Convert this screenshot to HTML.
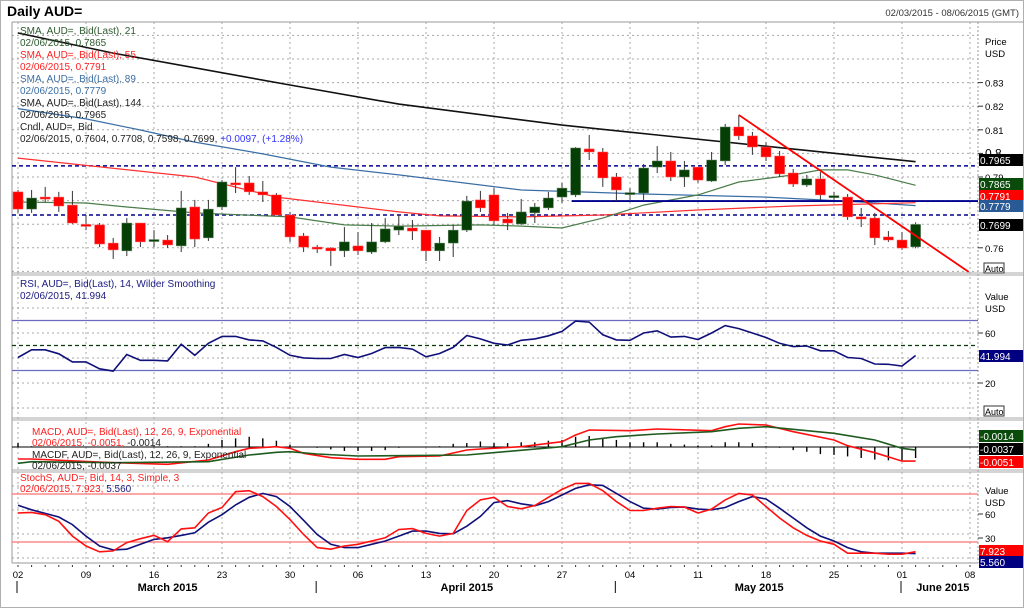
<!DOCTYPE html>
<html><head><meta charset="utf-8"><style>
html,body{margin:0;padding:0;background:#fff;}
svg{display:block;font-family:"Liberation Sans",sans-serif;}
</style></head><body>
<svg id="c" width="1024" height="608" viewBox="0 0 1024 608" xmlns="http://www.w3.org/2000/svg">
<rect x="0" y="0" width="1024" height="608" fill="#fff"/>
<rect x="0.5" y="0.5" width="1023" height="607" fill="none" stroke="#b0b0b0"/>
<text x="7" y="16" font-size="14" font-weight="bold" fill="#000">Daily AUD=</text>
<text x="1019" y="16" font-size="9.5" fill="#333" text-anchor="end">02/03/2015 - 08/06/2015 (GMT)</text>
<g id="grid"></g>
<g id="marks"></g>
<g id="legend" font-size="10">
<text x="20" y="34" fill="#2d5a2d">SMA, AUD=, Bid(Last), 21</text>
<text x="20" y="46" fill="#2d5a2d">02/06/2015, 0.7865</text>
<text x="20" y="58" fill="#ff2020">SMA, AUD=, Bid(Last), 55</text>
<text x="20" y="70" fill="#ff2020">02/06/2015, 0.7791</text>
<text x="20" y="82" fill="#3a6ea5">SMA, AUD=, Bid(Last), 89</text>
<text x="20" y="94" fill="#3a6ea5">02/06/2015, 0.7779</text>
<text x="20" y="106" fill="#222">SMA, AUD=, Bid(Last), 144</text>
<text x="20" y="118" fill="#222">02/06/2015, 0.7965</text>
<text x="20" y="130" fill="#222">Cndl, AUD=, Bid</text>
<text x="20" y="142" fill="#222">02/06/2015, 0.7604, 0.7708, 0.7598, 0.7699, <tspan fill="#3333ff">+0.0097, (+1.28%)</tspan></text>
<text x="20" y="287" fill="#1a1a80">RSI, AUD=, Bid(Last), 14, Wilder Smoothing</text>
<text x="20" y="299" fill="#1a1a80">02/06/2015, 41.994</text>
<text x="32" y="435" fill="#ff2020">MACD, AUD=, Bid(Last), 12, 26, 9, Exponential</text>
<text x="32" y="446" fill="#ff2020">02/06/2015, -0.0051, <tspan fill="#222">-0.0014</tspan></text>
<text x="32" y="458" fill="#222">MACDF, AUD=, Bid(Last), 12, 26, 9, Exponential</text>
<text x="32" y="469" fill="#222">02/06/2015, -0.0037</text>
<text x="20" y="481" fill="#ff2020">StochS, AUD=, Bid, 14, 3, Simple, 3</text>
<text x="20" y="492" fill="#ff2020">02/06/2015, 7.923, <tspan fill="#1a1a80">5.560</tspan></text>
</g>
<g id="axis" font-size="9.5"></g>
</svg>
<script>
// ---- price data ----
var candleOpen=[.7837,.7764,.7815,.7815,.7781,.7699,.7697,.7620,.7587,.7705,.7631,.7633,.7608,.7773,.7642,.7773,.7875,.7875,.7837,.7824,.7739,.7650,.7603,.7599,.7587,.7608,.7582,.7625,.7675,.7684,.7675,.7587,.7620,.7675,.7803,.7824,.7722,.7701,.7748,.7769,.7815,.7824,.8019,.8006,.7900,.7830,.7832,.7942,.7968,.7900,.7942,.7883,.7968,.8112,.8074,.8027,.7989,.7917,.7866,.7892,.7818,.7815,.7731,.7726,.7646,.7633,.7604];
var candleHigh=[.7845,.7845,.7858,.7837,.7841,.7739,.7705,.7642,.7726,.7705,.7675,.7654,.7841,.7803,.7803,.7887,.7942,.7904,.7883,.7832,.7752,.7663,.7612,.7603,.7688,.7667,.7705,.7726,.7739,.7718,.7675,.7646,.7697,.7820,.7841,.7853,.7748,.7807,.7790,.7837,.7875,.8027,.8078,.8023,.7917,.7853,.7955,.8031,.8006,.7968,.7942,.8006,.8125,.8163,.8091,.8048,.8010,.7934,.7909,.7921,.7837,.7828,.7769,.7748,.7671,.7667,.7708];
var candleLow=[.7748,.7748,.7794,.7752,.7701,.7675,.7603,.7553,.7565,.7603,.7603,.7599,.7582,.7603,.7629,.7760,.7832,.7824,.7794,.7739,.7625,.7582,.7578,.7523,.7561,.7570,.7574,.7620,.7654,.7633,.7544,.7544,.7561,.7667,.7752,.7697,.7675,.7697,.7705,.7760,.7790,.7815,.7972,.7858,.7798,.7798,.7798,.7917,.7883,.7858,.7875,.7879,.7951,.8057,.7994,.7968,.7900,.7858,.7858,.7803,.7803,.7718,.7688,.7612,.7625,.7591,.7598];
var candleClose=[.7764,.7811,.7807,.7777,.7705,.7697,.7616,.7591,.7705,.7625,.7635,.7612,.7769,.7637,.7764,.7879,.7871,.7837,.7824,.7739,.7646,.7603,.7595,.7587,.7625,.7587,.7625,.7680,.7692,.7671,.7587,.7620,.7675,.7798,.7769,.7714,.7705,.7752,.7773,.7811,.7853,.8023,.8006,.7896,.7845,.7834,.7938,.7968,.7900,.7930,.7887,.7972,.8112,.8074,.8027,.7985,.7913,.7870,.7892,.7824,.7821,.7731,.7722,.7642,.7633,.7599,.7699];
var sma21Idx=[0,5,8,13,20,24,28,34,37,40,43,46,50,53,57,59,61,63,66];
var sma21Val=[.7794,.7790,.7773,.7748,.7731,.7697,.7692,.7697,.7692,.7684,.7726,.7781,.7824,.7879,.7909,.7930,.7930,.7909,.7865];
var sma55Idx=[0,13,19,28,31,37,43,50,57,66];
var sma55Val=[.798,.790,.7815,.7752,.7735,.7731,.7739,.7760,.7777,.7791];
var sma89Idx=[0,5,9,13,18,23,28,37,46,55,59,62,66];
var sma89Val=[.819,.8146,.8099,.8048,.7998,.7942,.7909,.7845,.7828,.7815,.7803,.7794,.7779];
var sma144Idx=[0,7,20,28,40,47,66];
var sma144Val=[.851,.8425,.829,.8209,.812,.8078,.7965];
var dashedLevels=[.7947,.7739];
var supportLevel=.7798, supportStartIdx=41;
var trendIdx=[53,69.9], trendVal=[.8163,.7498];
var priceTicks=[0.83,0.82,0.81,0.8,0.79,0.76];
// ---- RSI ----
var rsiVal=[40.4,46.6,46.6,43.4,36.9,36.9,31.4,29.5,42.8,38.2,38.2,37.7,51,42.2,51.8,57.3,57.3,54.5,53.7,48.5,42.2,40.1,39.6,39.6,42.8,40.4,43.6,48.3,48.5,47.1,41,43.6,48.5,58,55.3,51.8,50.4,54.2,55.3,57.8,61.3,69.5,68.7,58.6,54.5,54.2,60,61.8,56.7,57.3,54.8,60,65.9,63.5,60,56.4,51.8,49.1,49.6,45.8,45.8,40.4,39.6,35.2,35,33.6,42.0];
var rsiBands=[70,30], rsiMid=50, rsiTicks=[60,20];
// ---- MACD ----
var macdIdx=[0,1,7,11,14,16,17,19,20,21,23,25,27,28,31,33,34,37,40,41,42,45,47,51,52,53,55,57,60,61,63,65,66];
var macdVal=[-.00484,-.00484,-.00531,-.00551,-.00496,-.00391,-.00348,-.00327,-.00348,-.00411,-.00467,-.00488,-.00488,-.00454,-.00446,-.00369,-.00356,-.00327,-.00264,-.00178,-.00115,-.00123,-.00102,-.00123,-.00073,-.00038,-.00051,-.00136,-.00242,-.00314,-.00404,-.0051,-.0051];
var signalIdx=[0,1,7,14,17,19,20,22,25,33,40,42,44,47,51,53,55,60,63,65,66];
var signalVal=[-.00538,-.00518,-.00531,-.00518,-.00433,-.00398,-.00391,-.0042,-.00446,-.00433,-.00327,-.00242,-.002,-.00165,-.00136,-.00093,-.00073,-.00157,-.00242,-.00348,-.0037];
var histVal=[.0005,.0001,0,0,0,0,0,0,0,0,.0001,.0001,.0001,.0001,.0004,.0009,.0011,.0013,.0011,.0008,.0003,0,-.0001,-.0003,-.0005,-.0005,-.0005,-.0004,-.0001,0,0,.0001,.0004,.0005,.0007,.0005,.0005,.0006,.0006,.0008,.0009,.0013,.0014,.0011,.0009,.0006,.0006,.0006,.0004,.0003,.0002,.0002,.0006,.0006,.0005,.0001,-.0001,-.0004,-.0006,-.0009,-.001,-.0012,-.0014,-.0016,-.0017,-.0017,-.0014];
// ---- Stochastic ----
var stochK=[56.2,57,54.1,45.9,27.4,15,7.7,8.9,19.2,24.1,28.2,20.4,36.4,37.7,56.2,63.1,82.9,84.1,76.7,64.4,48,29.4,13,11,15,17.1,21.2,25.3,35.6,36.8,30.7,27.4,30.7,59.4,72.6,75.9,64.4,61.5,65.6,75.9,85.8,93.2,93.2,84.1,70.5,59.4,59.4,62.3,64.4,63.6,56.2,61.1,72.6,80.8,78.8,64.4,50,37.7,28.2,21.2,17.1,6,6,6,4.8,4.8,7.9];
var stochD=[66,60.3,55.7,51.2,41.8,27.4,15,10.1,11,17.1,23.3,25.3,28.2,31.5,44.7,54.1,66.4,75.9,80.8,76.7,64.4,47.1,29.4,17.1,13,13,17.1,21.2,27.4,33.6,33.6,30.7,30.3,39.7,52,69.3,71.7,67.7,65.2,70.5,78.8,87,91.5,90.7,80.8,70.5,62.3,61.1,63.1,63.6,61.1,60.3,63.1,70.5,76.7,73.8,62.3,50,37.7,27.4,21.2,13,7.7,6,6,6,5.56];
var stochBands=[80,20], stochTicks=[60,30];
// ---- x axis ----
var dayLabels=["02","09","16","23","30","06","13","20","27","04","11","18","25","01","08"];
var weekStartIdx=[0,5,10,15,20,25,30,35,40,45,50,55,60,65,70];
var monthNames=["March 2015","April 2015","May 2015","June 2015"];
var monthStartIdx=[0,22,44,65];
var monthLabelIdx=[11,33,54.5,68];

var L=12,R=978;
function xOf(i){return 18+i*13.6;}
function yP(p){return 82.6+(0.83-p)*2360;}
function yR(v){return 333+(60-v)*1.25;}
function yM(v){return 421-v*7857;}
function yH(v){return 447-v*7857;}
function yS(v){return 558-v*0.8;}
var NS="http://www.w3.org/2000/svg";
function mk(tag,attrs,parent){var e=document.createElementNS(NS,tag);for(var k in attrs)e.setAttribute(k,attrs[k]);parent.appendChild(e);return e;}
var G=document.getElementById('grid'),M=document.getElementById('marks'),A=document.getElementById('axis');

var panels=[[22,273],[275,418],[420,470],[472,563]];
var defs=mk('defs',{},M);
panels.forEach(function(p,k){var cp=mk('clipPath',{id:'cp'+k},defs);mk('rect',{x:L,y:p[0],width:R-L,height:p[1]-p[0]},cp);});
weekStartIdx.forEach(function(i){
  var l=mk('line',{x1:xOf(i),x2:xOf(i),y1:22,y2:563,stroke:'#a8a8a8','stroke-dasharray':'2,3'},G);
  
  
});
for(var g=0.85;g>=0.745;g-=0.01){var yy=yP(g);if(yy>22&&yy<273){var l=mk('line',{x1:L,x2:R,y1:yy,y2:yy,stroke:'#a8a8a8','stroke-dasharray':'2,3'},G);

}}
[80,60,40,20,0].forEach(function(v){var yy=yR(v);var l=mk('line',{x1:L,x2:R,y1:yy,y2:yy,stroke:'#a8a8a8','stroke-dasharray':'2,3'},G);

});
[90,60,30,0].forEach(function(v){var yy=yS(v);var l=mk('line',{x1:L,x2:R,y1:yy,y2:yy,stroke:'#a8a8a8','stroke-dasharray':'2,3'},G);

});
mk('line',{x1:L,x2:L,y1:22,y2:563,stroke:'#999'},G);
mk('line',{x1:R,x2:R,y1:22,y2:563,stroke:'#999','stroke-dasharray':'2,2'},G);
mk('line',{x1:L,x2:1024,y1:22,y2:22,stroke:'#999'},G);
[273,275,418,420,470,472].forEach(function(y){mk('line',{x1:L,x2:1024,y1:y,y2:y,stroke:'#aaa'},G);});
mk('line',{x1:L,x2:R,y1:563,y2:563,stroke:'#999'},G);

function poly(idx,vals,yf,color,w,name,clip){
  var pts=[];for(var j=0;j<vals.length;j++){pts.push(xOf(idx?idx[j]:j).toFixed(1)+','+yf(vals[j]).toFixed(1));}
  var e=mk('polyline',{points:pts.join(' '),fill:'none',stroke:color,'stroke-width':w,'clip-path':'url(#cp'+clip+')'},M);
  
  
  return e;
}
dashedLevels.forEach(function(v){var l=mk('line',{x1:L,x2:R,y1:yP(v),y2:yP(v),stroke:'#000090','stroke-width':1.5,'stroke-dasharray':'4,3'},M);

});
poly(sma144Idx,sma144Val,yP,'#111',1.6,'sma-144-line',0);
poly(sma89Idx,sma89Val,yP,'#3a6ea5',1.2,'sma-89-line',0);
poly(sma55Idx,sma55Val,yP,'#ff3030',1.2,'sma-55-line',0);
poly(sma21Idx,sma21Val,yP,'#4a7d4a',1.2,'sma-21-line',0);
var sl=mk('line',{x1:xOf(supportStartIdx)-4,x2:R,y1:yP(supportLevel),y2:yP(supportLevel),stroke:'#000090','stroke-width':1.8},M);


for(var ci=0;ci<candleOpen.length;ci++){
  var co=candleOpen[ci],cc=candleClose[ci],chi=candleHigh[ci],clo=candleLow[ci],cx=xOf(ci);
  var up=cc>=co,col=up?'#063f06':'#ff0000';
  var wk=mk('line',{x1:cx,x2:cx,y1:yP(chi),y2:yP(clo),stroke:'#333','stroke-width':1},M);
  
  
  var bodyTop=yP(Math.max(co,cc)),bodyH=Math.max(2,Math.abs(yP(co)-yP(cc)));
  var bd=mk('rect',{x:cx-5,y:bodyTop,width:10,height:bodyH,fill:col,stroke:up?'#6a8a6a':'#ff6060','stroke-width':0.5},M);
  
  
}
var tl=mk('line',{x1:xOf(trendIdx[0]),y1:yP(trendVal[0]),x2:xOf(trendIdx[1]),y2:yP(trendVal[1]),stroke:'#ff0000','stroke-width':1.8,'clip-path':'url(#cp0)'},M);


rsiBands.forEach(function(v){var l=mk('line',{x1:L,x2:R,y1:yR(v),y2:yR(v),stroke:'#6a6ac0','stroke-width':1.2},M);

});
var rm=mk('line',{x1:L,x2:R,y1:yR(rsiMid),y2:yR(rsiMid),stroke:'#0a3a0a','stroke-width':1.2,'stroke-dasharray':'4,3'},M);


poly(null,rsiVal,yR,'#10107a',1.6,'rsi-line',1);
var z=mk('line',{x1:L,x2:R,y1:yH(0),y2:yH(0),stroke:'#000','stroke-width':1},M);


for(var hi=0;hi<histVal.length;hi++){if(histVal[hi]===0)continue;
  var hb=mk('line',{x1:xOf(hi),x2:xOf(hi),y1:yH(0),y2:yH(histVal[hi]),stroke:'#000','stroke-width':1.4,'clip-path':'url(#cp2)'},M);
  
  }
poly(macdIdx,macdVal,yM,'#ff1010',1.6,'macd-line',2);
poly(signalIdx,signalVal,yM,'#1f5a1f',1.6,'macd-signal-line',2);
stochBands.forEach(function(v){var l=mk('line',{x1:L,x2:R,y1:yS(v),y2:yS(v),stroke:'#ff7070','stroke-width':1.2},M);

});
poly(null,stochD,yS,'#10107a',1.6,'stoch-d-line',3);
poly(null,stochK,yS,'#ff1010',1.6,'stoch-k-line',3);

function txt(x,y,s,attrs,name){var t=mk('text',{x:x,y:y},A);for(var k in attrs)t.setAttribute(k,attrs[k]);t.textContent=s;


return t;}
txt(985,45,'Price',{},'price-axis-title');txt(985,57,'USD',{},'price-axis-unit');
priceTicks.forEach(function(p){var y=yP(p);mk('line',{x1:R,x2:R+5,y1:y,y2:y,stroke:'#333'},A);txt(985,y+4,p===0.8?'0.8':p.toFixed(2),p===0.8?{'font-size':'12'}:{},'price-tick-label');});
txt(985,300,'Value',{},'rsi-axis-title');txt(985,312,'USD',{},'rsi-axis-unit');
rsiTicks.forEach(function(v){var y=yR(v);mk('line',{x1:R,x2:R+5,y1:y,y2:y,stroke:'#333'},A);txt(985,y+4,String(v),{},'rsi-tick-label');});
txt(985,494,'Value',{},'stoch-axis-title');txt(985,506,'USD',{},'stoch-axis-unit');
stochTicks.forEach(function(v){var y=yS(v)+4;mk('line',{x1:R,x2:R+5,y1:y,y2:y,stroke:'#333'},A);txt(985,y+4,String(v),{},'stoch-tick-label');});
function autoBox(y,name){var r=mk('rect',{x:984,y:y,width:20,height:10,fill:'#fff',stroke:'#333'},A);


txt(985,y+9,'Auto',{'font-size':'9'},name+'-label');}
autoBox(263,'price-auto-button');autoBox(406,'rsi-auto-button');
function box(y,s,bg,name){var r=mk('rect',{x:979,y:y-6,width:44,height:12,fill:bg},A);


txt(980,y+4,s,{fill:'#fff','font-size':'10'},name+'-text');}
box(160,'0.7965','#000','sma144-value-tag');
box(184,'0.7865','#0a4a0a','sma21-value-tag');
box(196,'0.7791','#ff0000','sma55-value-tag');
box(206,'0.7779','#2a5a95','sma89-value-tag');
box(225,'0.7699','#000','last-price-tag');
box(356,'41.994','#000080','rsi-value-tag');
box(436,'-0.0014','#0a4a0a','macd-hist-tag');
box(449,'-0.0037','#000','macd-signal-tag');
box(462,'-0.0051','#ff0000','macd-value-tag');
box(551,'7.923','#ff0000','stoch-k-tag');
box(562,'5.560','#000080','stoch-d-tag');
for(var ti=0;ti<=70;ti++){mk('line',{x1:xOf(ti),x2:xOf(ti),y1:565,y2:567,stroke:'#333'},A);}
dayLabels.forEach(function(s,k){txt(xOf(weekStartIdx[k]),578,s,{'text-anchor':'middle','font-size':'9.5'},'x-day-label');});
monthNames.forEach(function(s,k){
  var sx=xOf(monthStartIdx[k])-1;
  var ln=mk('line',{x1:sx,x2:sx,y1:581,y2:593,stroke:'#333','stroke-width':1.2},A);
  
  
  txt(xOf(monthLabelIdx[k]),591,s,{'text-anchor':'middle','font-size':'11','font-weight':'bold'},'x-month-label');
});
</script>
</body></html>
